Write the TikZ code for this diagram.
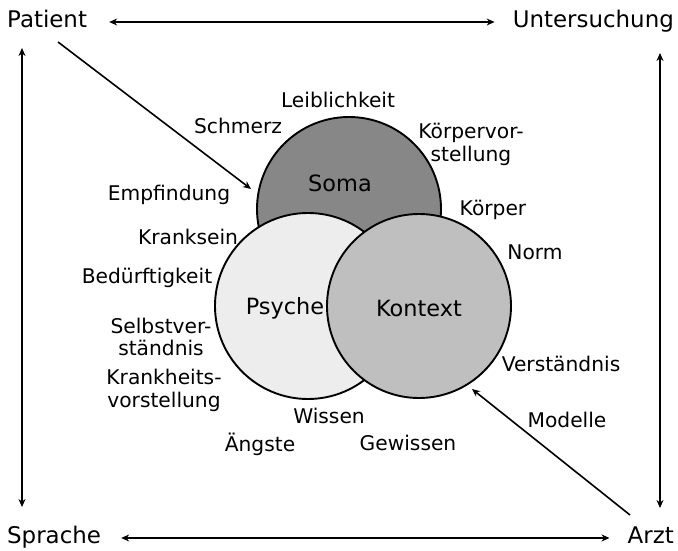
\documentclass[tikz,border=0pt]{standalone}
\usepackage{fontspec}
\setmainfont{DejaVu Sans}
\usetikzlibrary{arrows.meta}
\begin{document}
\begin{tikzpicture}[x=1bp,y=-1bp,
  corner/.style={font=\fontsize{23}{26}\selectfont, inner sep=0pt, text height=16bp, text depth=5bp},
  lab/.style={font=\fontsize{20.3}{23}\selectfont, inner sep=0pt, align=center},
  big/.style={font=\fontsize{22.5}{26}\selectfont, inner sep=0pt},
  ring/.style={circle, draw=black, line width=1.9bp, inner sep=0pt},
  con/.style={line width=1.6bp, black},
  tip/.style={-{Stealth[length=8bp,width=7bp]}},
  tips/.style={{Stealth[length=8bp,width=7bp]}-{Stealth[length=8bp,width=7bp]}}]
\useasboundingbox (0,0) rectangle (678,551);
% circles
\node[ring, fill=black!47, minimum size=184bp] (soma) at (349,209) {};
\node[ring, fill=black!7, minimum size=186bp] (psyche) at (308,306) {};
\node[ring, fill=black!25, minimum size=184bp] (kontext) at (419,306) {};
\node[big] (tsoma) at (340,183) {Soma};
\node[big] (tpsyche) at (285,308) {Psyche};
\node[big] (tkontext) at (419,308) {Kontext};
% corners
\node[corner, anchor=west] (patient) at (7,22) {Patient};
\node[corner, anchor=east] (unters) at (674,22) {Untersuchung};
\node[corner, anchor=west] (sprache) at (7,538) {Sprache};
\node[corner, anchor=east] (arzt) at (674,538) {Arzt};
% labels
\node[lab] (leib) at (338,100) {Leiblichkeit};
\node[lab] (schmerz) at (238,126) {Schmerz};
\node[lab] (kvor) at (471,144) {Körpervor-\\stellung};
\node[lab] (empf) at (169,195) {Empfindung};
\node[lab] (koerper) at (493,210) {Körper};
\node[lab] (krank) at (188,237) {Kranksein};
\node[lab] (norm) at (535,252) {Norm};
\node[lab] (bed) at (147,278) {Bedürftigkeit};
\node[lab] (selbst) at (161,337) {Selbstver-\\ständnis};
\node[lab] (kheits) at (164,390) {Krankheits-\\vorstellung};
\node[lab] (verst) at (561,364) {Verständnis};
\node[lab] (wissen) at (329,416) {Wissen};
\node[lab] (modelle) at (567,420) {Modelle};
\node[lab] (aengste) at (260,444) {Ängste};
\node[lab] (gewissen) at (408,443) {Gewissen};
% connector ends
\coordinate (lt) at (22,48);
\coordinate (lb) at (22,507);
\coordinate (rt) at (660,53);
\coordinate (rb) at (660,508);
\coordinate (pstart) at (58,42);
\coordinate (pend) at (251,189);
\coordinate (astart) at (630,515);
\coordinate (aend) at (472,389);
% connectors
\draw[con, tips, shorten <=22bp, shorten >=18bp] (patient.east) -- (unters.west);
\draw[con, tips, shorten <=20bp, shorten >=18bp] (sprache.east) -- (arzt.west);
\draw[con, tips] (lt) -- (lb);
\draw[con, tips] (rt) -- (rb);
\draw[con, tip] (pstart) -- (pend);
\draw[con, tip] (astart) -- (aend);
\end{tikzpicture}
\end{document}
